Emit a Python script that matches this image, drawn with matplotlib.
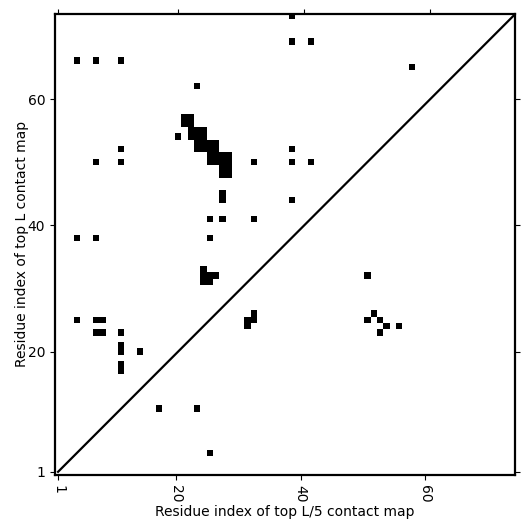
import numpy as np
import matplotlib
matplotlib.use('Agg')
import matplotlib.pyplot as plt

# grid of the contact image and the axis range used for the labelled x ticks
n_cells = 73
axis_len = 74
tick_pos = [0, 19, 39, 59]
tick_labels = ['1', '20', '40', '60']

# contacts (column index, row index) in the image grid
upper_cols = [37, 37, 40, 3, 6, 10, 56, 22,
              20, 21, 20, 21,
              21, 22, 23, 21, 22, 23, 19,
              22, 23, 24, 25, 22, 23, 24, 25,
              24, 25, 26, 27, 24, 25, 26, 27,
              26, 27, 26, 27,
              10, 37, 6, 10, 31, 37, 40,
              26, 26, 37, 24, 26, 31, 3, 6, 24,
              23, 23, 23, 24, 25, 24,
              30, 30, 31, 31,
              3, 6, 7, 6, 7, 10,
              10, 10, 13, 10, 10, 16, 22, 24]
upper_rows = [72, 68, 68, 65, 65, 65, 64, 61,
              56, 56, 55, 55,
              54, 54, 54, 53, 53, 53, 53,
              52, 52, 52, 52, 51, 51, 51, 51,
              50, 50, 50, 50, 49, 49, 49, 49,
              48, 48, 47, 47,
              51, 51, 49, 49, 49, 49, 49,
              44, 43, 43, 40, 40, 40, 37, 37, 37,
              32, 31, 30, 31, 31, 30,
              24, 23, 25, 24,
              24, 24, 24, 22, 22, 22,
              20, 19, 19, 17, 16, 10, 10, 3]
lower_cols = [49, 50, 49, 51, 52, 54, 51]
lower_rows = [31, 25, 24, 24, 23, 23, 22]

mat = np.zeros((n_cells, n_cells))
mat[np.array(upper_rows + lower_rows), np.array(upper_cols + lower_cols)] = 1

fig = plt.figure(figsize=(5.31, 5.31), dpi=100)
rect = [0.1034, 0.1055, 0.8674, 0.8686]
ax = fig.add_axes(rect)
xlo, xhi = -0.5, axis_len - 0.5
ylo, yhi = -0.5, n_cells - 0.5
ax.imshow(mat, cmap='Greys', origin='lower', interpolation='nearest',
          extent=(xlo, xhi, ylo, yhi), aspect='auto', vmin=0, vmax=1)
ax.set_xlim(xlo, xhi)
ax.set_ylim(ylo, yhi)
ax.set_xticks(tick_pos)
ax.set_xticklabels(tick_labels, rotation=270)
ax.set_yticks(tick_pos)
ax.set_yticklabels(tick_labels)
ax.tick_params(top=False, right=True, labelsize=10)
for s in ax.spines.values():
    s.set_linewidth(1.6)
ax.set_xlabel('Residue index of top L/5 contact map', fontsize=10, labelpad=2)
ax.set_ylabel('Residue index of top L contact map', fontsize=10, labelpad=-1)

ax_t = ax.twiny()
ax_t.set_xlim(-0.5, n_cells - 0.5)
ax_t.set_xticks(tick_pos)
ax_t.set_xticklabels([])
ax_t.plot([0, n_cells], [0, n_cells], color='black', lw=1.6)
for s in ax_t.spines.values():
    s.set_visible(False)

fig.savefig('out.png', dpi=100)
